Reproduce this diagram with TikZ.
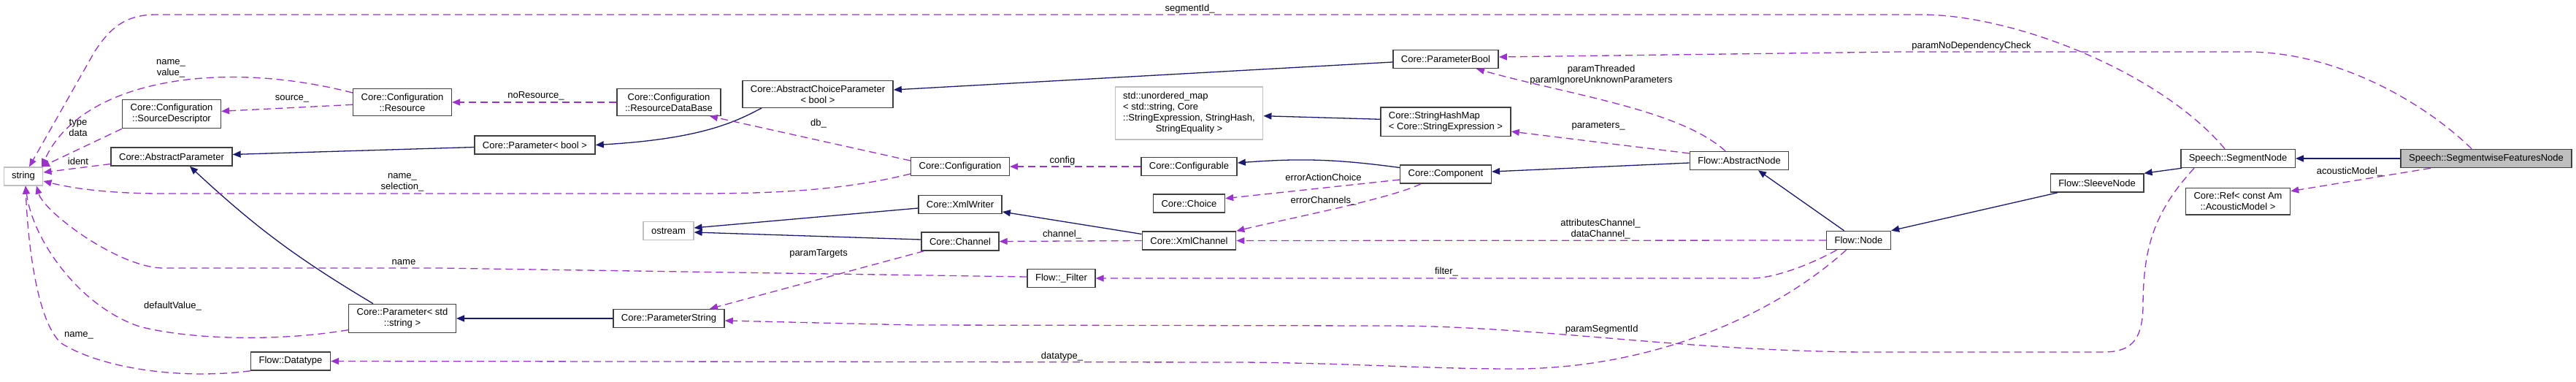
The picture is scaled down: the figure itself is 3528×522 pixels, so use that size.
\documentclass[tikz,border=0pt]{standalone}
\usepackage{fontspec}
\setmainfont{Liberation Sans}
\usepackage{xcolor}
\usepackage{tikz}
\usetikzlibrary{arrows.meta}
\definecolor{inhblue}{HTML}{191970}
\definecolor{usepurple}{HTML}{9A32CD}
\definecolor{boxgray}{HTML}{404040}
\definecolor{extgray}{HTML}{BFBFBF}

\begin{document}
\begin{tikzpicture}[
  x=1pt, y=-1pt,
  every node/.style={font=\fontsize{13}{15}\selectfont},
  box/.style={draw=boxgray, line width=1.5pt, fill=white, align=center, inner xsep=11pt, inner ysep=6pt, minimum height=25pt},
  extbox/.style={box, draw=extgray, line width=1.2pt},
  inh/.style={-{Triangle[length=11pt, width=9pt]}, draw=inhblue, line width=1.3pt},
  member/.style={-{Triangle[length=11pt, width=9pt]}, draw=usepurple, dash pattern=on 10pt off 6pt, line width=1.3pt},
  lbl/.style={inner sep=0pt, align=center}
]
\useasboundingbox (0,0) rectangle (3528,522);

\node[extbox] (str) at (32,241.5) {string};
\node[box] (srcdesc) at (235,156) {Core::Configuration\\::SourceDescriptor};
\node[box] (absparam) at (235,214.5) {Core::AbstractParameter};
\node[box] (resource) at (551,140) {Core::Configuration\\::Resource};
\node[box] (paramstd) at (551,436) {Core::Parameter< std\\::string >};
\node[box] (datatype) at (398,494.5) {Flow::Datatype};
\node[box] (resdb) at (916,140) {Core::Configuration\\::ResourceDataBase};
\node[box] (choicepar) at (1120,129) {Core::AbstractChoiceParameter\\< bool >};
\node[box] (parambool) at (732.5,198.5) {Core::Parameter< bool >};
\node[extbox] (ostream) at (915.5,316) {ostream};
\node[box] (paramstr) at (916,436) {Core::ParameterString};
\node[box] (config) at (1315,228) {Core::Configuration};
\node[extbox, align=left] (umap) at (1628.5,155) {\begin{tabular}{@{}l@{}}std::unordered\_map\\< std::string, Core\\::StringExpression, StringHash,\\\multicolumn{1}{@{}c@{}}{StringEquality >}\end{tabular}};
\node[box] (configurable) at (1628.5,228) {Core::Configurable};
\node[box] (choice) at (1628.5,278.5) {Core::Choice};
\node[box] (xmlwriter) at (1315,280) {Core::XmlWriter};
\node[box] (channel) at (1315,330.5) {Core::Channel};
\node[box] (xmlchannel) at (1628.5,329.5) {Core::XmlChannel};
\node[box] (filter) at (1453.5,381) {Flow::\_Filter};
\node[box] (pbool) at (1980,81) {Core::ParameterBool};
\node[box, align=left] (hashmap) at (1980,166.7) {Core::StringHashMap\\< Core::StringExpression >};
\node[box] (component) at (1980,238.5) {Core::Component};
\node[box] (absnode) at (2382,220) {Flow::AbstractNode};
\node[box] (flownode) at (2545.5,329) {Flow::Node};
\node[box] (sleeve) at (2872,250.5) {Flow::SleeveNode};
\node[box] (segnode) at (3065,217) {Speech::SegmentNode};
\node[box, fill=extgray] (swfnode) at (3405,217) {Speech::SegmentwiseFeaturesNode};
\node[box] (amref) at (3065,275.7) {Core::Ref< const Am\\::AcousticModel >};

\draw[inh] ([yshift=-3pt]parambool.west) -- ([yshift=3pt]absparam.east);
\draw[inh] ([xshift=-40pt]paramstd.north) to[bend left=6] ([xshift=25pt]absparam.south);
\draw[inh] ([xshift=-77pt]choicepar.south) .. controls (1010,165) and (965,190) .. (parambool.east);
\draw[inh] ([yshift=-4pt]pbool.west) -- ([yshift=6pt]choicepar.east);
\draw[inh] (paramstr.west) -- (paramstd.east);
\draw[inh] ([yshift=-5pt]xmlwriter.west) -- ([yshift=4pt]ostream.east);
\draw[inh] ([yshift=2.5pt]channel.west) -- ([yshift=-2pt]ostream.east);
\draw[inh] ([yshift=9pt]xmlchannel.west) -- ([yshift=-10pt]xmlwriter.east);
\draw[inh] ([yshift=9pt]component.west) to[bend right=6] ([yshift=5pt]configurable.east);
\draw[inh] ([yshift=-3pt]absnode.west) -- ([yshift=3.5pt]component.east);
\draw[inh] ([yshift=3.4pt]hashmap.west) -- ([yshift=-3.7pt]umap.east);
\draw[inh] ([xshift=-20pt]flownode.north) -- ([xshift=26pt]absnode.south);
\draw[inh] ([xshift=-54pt]sleeve.south) -- (flownode.north east);
\draw[inh] ([xshift=2pt]segnode.south west) -- (sleeve.north east);
\draw[inh] (swfnode.west) -- (segnode.east);

\draw[member] ([yshift=-3.3pt]resource.west) -- ([yshift=3.7pt]srcdesc.east) node[lbl] at (400,135.7) {source\_};
\draw[member] (resdb.west) -- (resource.east) node[lbl] at (734,131.7) {noResource\_};
\draw[member] ([yshift=13pt]resource.west) .. controls (300,80) and (110,110) .. ([xshift=25pt]str.north) node[lbl] at (234,94) {name\_\\value\_};
\draw[member] (srcdesc.south west) -- ([xshift=25pt]str.north) node[lbl] at (107,175) {type\\data};
\draw[member] ([yshift=-10pt]absparam.west) -- ([yshift=5.5pt]str.east) node[lbl] at (107,220.7) {ident};
\draw[member] ([yshift=-10pt]config.west) .. controls (1150,262) and (1050,265) .. (952,265) -- (222,265) .. controls (150,265) and (100,258) .. ([yshift=-6.5pt]str.east) node[lbl] at (551,250) {name\_\\selection\_};
\draw[member] ([yshift=8pt]config.west) -- ([xshift=56pt]resdb.south) node[lbl] at (1121,169) {db\_};
\draw[member] (configurable.west) -- (config.east) node[lbl] at (1455,220) {config};
\draw[member] ([yshift=-7.5pt]component.west) -- ([yshift=6.8pt]choice.east) node[lbl] at (1812.5,243.3) {errorActionChoice};
\draw[member] ([xshift=-34pt]component.south) .. controls (1905,272) and (1760,300) .. (xmlchannel.north east) node[lbl] at (1812.5,275) {errorChannels\_};
\draw[member] (xmlchannel.west) -- (channel.east) node[lbl] at (1454.5,320.7) {channel\_};
\draw[member] ([xshift=4pt]channel.south west) -- ([xshift=56pt]paramstr.north) node[lbl] at (1121,347.7) {paramTargets};
\draw[member] ([yshift=2pt]filter.west) -- (600,367) -- (222,367) .. controls (160,365) and (60,290) .. ([xshift=18pt]str.south) node[lbl] at (553,359) {name};
\draw[member] ([yshift=-15.7pt]paramstd.west) .. controls (380,468) and (260,465) .. (191,447) .. controls (110,420) and (45,330) .. ([xshift=3pt]str.south) node[lbl] at (236.5,419.3) {defaultValue\_};
\draw[member] (datatype.south west) .. controls (250,520) and (140,505) .. (84,470) .. controls (50,440) and (38,330) .. ([xshift=3pt]str.south) node[lbl] at (108,459) {name\_};
\draw[member] ([xshift=-18pt]segnode.north) .. controls (2960,100) and (2760,20) .. (2631,20) -- (214,20) .. controls (170,20) and (150,40) .. (130,70) -- ([xshift=8pt]str.north) node[lbl] at (1629.5,11.7) {segmentId\_};
\draw[member] ([xshift=-20pt]swfnode.north) .. controls (3320,140) and (3200,71) .. (3077,71) -- (2600,71) -- ([yshift=3pt]pbool.east) node[lbl] at (2700,62.7) {paramNoDependencyCheck};
\draw[member] ([xshift=-19pt]absnode.north) .. controls (2300,150) and (2150,130) .. ([xshift=42pt]pbool.south) node[lbl] at (2193,103) {paramThreaded\\paramIgnoreUnknownParameters};
\draw[member] ([yshift=10pt]absnode.west) -- ([yshift=-13.3pt]hashmap.east) node[lbl] at (2189,172.7) {parameters\_};
\draw[member] (flownode.west) -- (xmlchannel.east) node[lbl] at (2192,313.7) {attributesChannel\_\\dataChannel\_};
\draw[member] ([xshift=-30pt]flownode.south) .. controls (2480,362) and (2430,381) .. (2399,381) -- (filter.east) node[lbl] at (1981,372.3) {filter\_};
\draw[member] ([xshift=-17pt]flownode.south) .. controls (2420,440) and (2250,505) .. (2073,505) .. controls (1950,505) and (1850,497) .. (1700,496) -- (datatype.east) node[lbl] at (1454.5,487.7) {datatype\_};
\draw[member] ([xshift=-60pt]segnode.south) .. controls (2950,290) and (2935,340) .. (2935,420) .. controls (2934,470) and (2915,482) .. (2880,482) -- (2550,482) .. controls (2300,480) and (2100,446) .. (1900,446) -- (1250,445) -- ([yshift=-3pt]paramstr.east) node[lbl] at (2193.7,451) {paramSegmentId};
\draw[member] ([xshift=-76pt]swfnode.south) -- ([yshift=14pt]amref.east) node[lbl] at (3218,235) {acousticModel\_};
\end{tikzpicture}
\end{document}
